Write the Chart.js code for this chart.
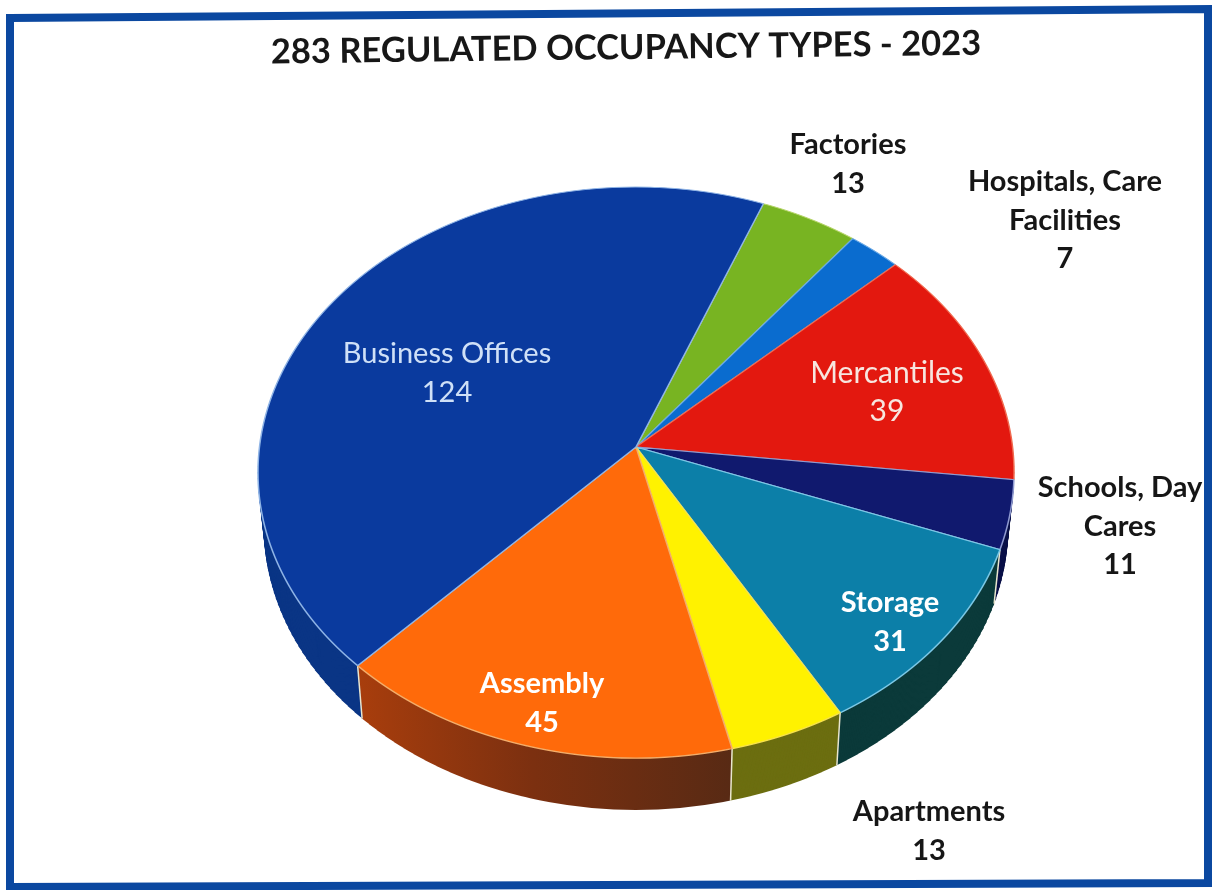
<!DOCTYPE html>
<html>
<head>
<meta charset="utf-8">
<title>283 Regulated Occupancy Types - 2023</title>
<script src="https://cdn.jsdelivr.net/npm/chart.js@4"></script>
<style>
  html, body { margin: 0; padding: 0; background: #fff; }
  canvas { display: block; }
</style>
</head>
<body>
<canvas id="miGrafico" width="1212" height="890"></canvas>
<script>
const chartTitle = '283 REGULATED OCCUPANCY TYPES - 2023';
const categories = ['Factories', 'Hospitals, Care Facilities', 'Mercantiles', 'Schools, Day Cares', 'Storage', 'Apartments', 'Assembly', 'Business Offices'];
const values = [13, 7, 39, 11, 31, 13, 45, 124];

const topColors = ['#78b422', '#0a6ccf', '#e3180f', '#10196e', '#0c7fa8', '#fff200', '#ff6a0a', '#0a3a9e'];
const rimColors = ['#b6d56a', '#6aa9e6', '#f06a50', '#8f9ad0', '#7cc8e6', '#f7e24a', '#f3ad6a', '#8fb4e6'];
const sideColors = ['#4f7a16', '#084a8c', '#8e0f0a', '#0a1048', '#0b3a3a', '#6c6e10', '#7a2f10', '#0a3585'];

// how each label breaks, and where it sits
const labelLines = [['Factories'], ['Hospitals, Care', 'Facilities'], ['Mercantiles'], ['Schools, Day', 'Cares'], ['Storage'], ['Apartments'], ['Assembly'], ['Business Offices']];
const labelSpots = [[848, 145], [1065, 182], [887, 373], [1120, 488], [890, 603], [929, 812], [542, 684], [447, 354]];
const labelFonts = ['700 29px Lato', '700 29px Lato', '400 30px Lato', '700 29px Lato', '700 29px Lato', '700 29px Lato', '700 29px Lato', '400 29px Lato'];
const labelColors = ['#161616', '#161616', '#f7e6df', '#161616', '#ffffff', '#161616', '#ffffff', '#cfe0f7'];

// perspective of the tilted disc: y = b*v/w, x = a*u/w, w = 1 + p*v
const radius = 378;
const pScale = -0.0893 / radius;
const aScale = 0.996;
const bScale = 0.7493;
const wallDepth = 55;
const wallShrinkX = 0.984;
const wallShrinkY = 0.99;

// row of the picture -> matching row of the flat pie, drawn through one clipped band
function drawBand(ctx, arcs, cx, cy, rowTop, rowBottom, a, b, drop, fillOne) {
  const Y = (rowTop + rowBottom) / 2 - cy - drop;
  const v = Y / (b - pScale * Y);
  const w = 1 + pScale * v;
  ctx.save();
  ctx.beginPath();
  ctx.rect(0, rowTop, 1212, rowBottom - rowTop);
  ctx.clip();
  ctx.translate(cx, cy + drop + Y);
  ctx.scale(a / w, b / (w * w));
  ctx.translate(-cx, -(cy + v));
  arcs.forEach(fillOne);
  ctx.restore();
}

function drawTopFace(ctx, arcs, cx, cy) {
  for (let row = 180; row < 770; row++) {
    drawBand(ctx, arcs, cx, cy, row, row + 1, aScale, bScale, 0, arc => arc.draw(ctx));
  }
}

function drawWall(ctx, arcs, cx, cy) {
  const wallFill = sideColors.slice();
  const grad = ctx.createLinearGradient(355, 0, 725, 0);
  grad.addColorStop(0, '#ad3f0c');
  grad.addColorStop(0.5, '#7c3010');
  grad.addColorStop(1, '#582a14');
  wallFill[6] = grad;

  const fillSide = (arc, i) => {
    const old = arc.options;
    arc.options = Object.assign({}, old, { backgroundColor: wallFill[i], borderWidth: 0 });
    arc.draw(ctx);
    arc.options = old;
  };

  for (let d = wallDepth; d >= 1; d--) {
    const t = d / wallDepth;
    const a = aScale * (1 + (wallShrinkX - 1) * t);
    const b = bScale * (1 + (wallShrinkY - 1) * t);
    for (let row = cy + d; row < 830; row += 6) {
      drawBand(ctx, arcs, cx, cy, row, row + 6, a, b, d, fillSide);
    }
  }

  // pale seams between the wall pieces
  ctx.save();
  ctx.strokeStyle = '#e9e6cf';
  ctx.lineWidth = 1.5;
  arcs.forEach(arc => {
    const c = Math.cos(arc.startAngle), s = Math.sin(arc.startAngle);
    if (s < 0.2) return;
    const w = 1 + pScale * radius * s;
    const rimX = radius * c / w, rimY = radius * s / w;
    ctx.beginPath();
    ctx.moveTo(cx + aScale * rimX, cy + bScale * rimY);
    ctx.lineTo(cx + aScale * wallShrinkX * rimX, cy + wallDepth + bScale * wallShrinkY * rimY);
    ctx.stroke();
  });
  ctx.restore();
}

const pie3d = {
  id: 'pie3d',
  beforeDatasetDraw(chart, args) {
    const ctx = chart.ctx;
    const arcs = chart.getDatasetMeta(args.index).data;
    const cx = arcs[0].x, cy = Math.round(arcs[0].y);
    drawWall(ctx, arcs, cx, cy);
    drawTopFace(ctx, arcs, cx, cy);
    return false;
  }
};

const frameAndText = {
  id: 'frameAndText',
  beforeDraw(chart) {
    const ctx = chart.ctx;
    ctx.save();
    ctx.fillStyle = '#ffffff';
    ctx.fillRect(0, 0, 1212, 890);
    ctx.strokeStyle = '#0b48a0';
    ctx.lineWidth = 8;
    ctx.lineJoin = 'miter';
    ctx.beginPath();
    ctx.moveTo(10, 18);
    ctx.lineTo(1208, 9);
    ctx.lineTo(1208, 883);
    ctx.lineTo(10, 887);
    ctx.closePath();
    ctx.stroke();
    ctx.restore();
  },
  afterDraw(chart) {
    const ctx = chart.ctx;
    ctx.save();
    ctx.textAlign = 'center';
    ctx.textBaseline = 'middle';

    ctx.save();
    ctx.translate(626, 48);
    ctx.rotate(-0.7 * Math.PI / 180);
    ctx.fillStyle = '#171717';
    ctx.font = '700 34.5px Lato';
    ctx.fillText(chartTitle, 0, 0);
    ctx.restore();

    categories.forEach((name, i) => {
      const lines = labelLines[i].concat(String(values[i]));
      ctx.font = labelFonts[i];
      ctx.fillStyle = labelColors[i];
      lines.forEach((line, n) => {
        ctx.fillText(line, labelSpots[i][0], labelSpots[i][1] + n * 38.5);
      });
    });
    ctx.restore();
  }
};

new Chart(document.getElementById('miGrafico').getContext('2d'), {
  type: 'pie',
  data: {
    labels: categories,
    datasets: [{
      data: values,
      backgroundColor: topColors,
      borderColor: rimColors,
      borderWidth: 1.5
    }]
  },
  options: {
    responsive: false,
    animation: false,
    rotation: 21.5,
    radius: radius,
    layout: { padding: { left: 60, top: 4 } },
    plugins: {
      legend: { display: false },
      tooltip: { enabled: false }
    }
  },
  plugins: [frameAndText, pie3d]
});
</script>
</body>
</html>
